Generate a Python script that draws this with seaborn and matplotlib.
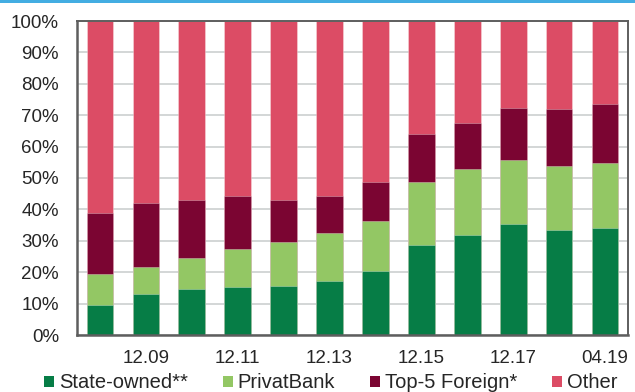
import matplotlib
matplotlib.use('Agg')
import matplotlib.pyplot as plt
import matplotlib.patches as mpatches
from matplotlib.ticker import FixedLocator, FuncFormatter
import numpy as np
import pandas as pd
import seaborn as sns

# ── Data (share of banking sector, %) ───────────────────────────────────
periods = ['12.08', '12.09', '12.10', '12.11', '12.12', '12.13',
           '12.14', '12.15', '12.16', '12.17', '12.18', '04.19']
state_owned = [9.6, 13.0, 14.6, 15.3, 15.7, 17.3, 20.5, 28.8, 31.9, 35.4, 33.5, 34.0]
privatbank = [9.8, 8.6, 9.9, 12.1, 13.9, 15.3, 15.9, 20.0, 21.0, 20.3, 20.4, 20.8]
top5_foreign = [19.6, 20.5, 18.6, 17.0, 13.5, 11.8, 12.4, 15.3, 14.6, 16.7, 18.2, 18.8]
other = [61.0, 57.9, 56.9, 55.6, 56.9, 55.6, 51.2, 35.9, 32.5, 27.6, 27.9, 26.4]
shown_labels = ['12.09', '12.11', '12.13', '12.15', '12.17', '04.19']

series = ['State-owned**', 'PrivatBank', 'Top-5 Foreign*', 'Other']
colors = ['#067D46', '#93C764', '#7B0532', '#DC4C65']

df = pd.DataFrame({'period': periods, 'State-owned**': state_owned,
                   'PrivatBank': privatbank, 'Top-5 Foreign*': top5_foreign,
                   'Other': other})
cum = df[series].cumsum(axis=1)

sns.set_style('white')
plt.rcParams['font.family'] = ['Liberation Sans', 'DejaVu Sans']
plt.rcParams['font.size'] = 13.5

fig = plt.figure(figsize=(6.35, 3.92), dpi=100)
ax = fig.add_axes([77 / 635, 1 - 335 / 392, 551 / 635, 314 / 392])

# draw cumulative totals from the top down so lower segments overlay
for name, col in reversed(list(zip(series, colors))):
    sns.barplot(x=df['period'], y=cum[name], color=col, width=0.58,
                saturation=1, linewidth=0.6, edgecolor=(1, 1, 1, 0.35),
                ax=ax, zorder=3)

ax.set_ylim(0, 100)
ax.set_xlim(-0.5, len(periods) - 0.5)
ax.set_yticks(np.arange(0, 101, 10))
ax.yaxis.set_major_formatter(FuncFormatter(lambda v, _: f'{v:.0f}%'))
ax.yaxis.grid(True, color='#D0D3D3', linewidth=1.3, zorder=0)
ax.xaxis.grid(False)
ax.set_axisbelow(True)

# tick marks between categories, labels under every other bar
ax.xaxis.set_major_locator(FixedLocator(np.arange(0.5, len(periods) - 1, 1)))
ax.xaxis.set_major_formatter(FuncFormatter(lambda v, _: ''))
label_pos = [periods.index(p) for p in shown_labels]
ax.xaxis.set_minor_locator(FixedLocator(label_pos))
ax.set_xticklabels(shown_labels, minor=True)
ax.tick_params(axis='x', which='major', direction='in', length=5,
               width=1.3, color='#595959')
ax.tick_params(axis='x', which='minor', length=0, pad=11, labelsize=13.5)
ax.tick_params(axis='y', length=0, pad=13, labelsize=13.5)
ax.set_xlabel('')
ax.set_ylabel('')

for side, sp in ax.spines.items():
    sp.set_visible(True)
    sp.set_color('#5E5E5E')
    sp.set_linewidth(1.8 if side in ('left', 'bottom') else 1.4)
    sp.set_zorder(5)

handles = [mpatches.Patch(facecolor=c, edgecolor='none', label=s)
           for s, c in zip(series, colors)]
fig.legend(handles=handles, loc='center', bbox_to_anchor=(0.521, 1 - 383 / 392),
           ncol=4, frameon=False, handlelength=0.5, handleheight=0.5,
           handletextpad=0.22, columnspacing=1.75, fontsize=14.5,
           borderaxespad=0)

# blue rule along the top edge
fig.patches.append(mpatches.Rectangle((0, 1 - 3 / 392), 1, 3 / 392,
                                      transform=fig.transFigure,
                                      facecolor='#43ADE2', edgecolor='none'))

fig.savefig('out.png', dpi=100, facecolor='white')
